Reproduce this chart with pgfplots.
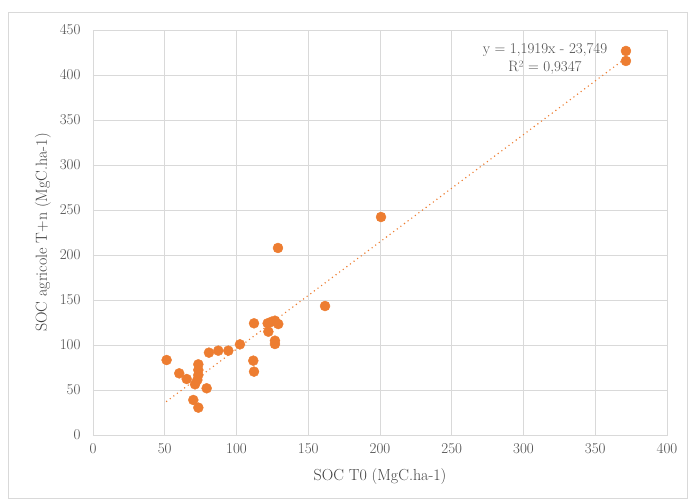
\documentclass[border=0pt]{standalone}
\usepackage{pgfplots}
\pgfplotsset{compat=1.18}
\definecolor{xlorange}{RGB}{237,125,49}
\definecolor{gridgray}{RGB}{217,217,217}
\begin{document}
\begin{tikzpicture}
\begin{axis}[
  name=ax,
  scale only axis,
  width=574pt, height=405pt,
  xmin=0, xmax=400, ymin=0, ymax=450,
  xtick={0,50,...,400}, ytick={0,50,...,450},
  grid=major,
  major grid style={gridgray, line width=0.8pt},
  axis line style={gridgray, line width=0.8pt},
  tick style={draw=none},
  ticklabel style={font=\fontsize{15}{17}\selectfont, text=black!70},
  /pgf/number format/assume math mode=true,
  xticklabel style={yshift=-5pt},
  yticklabel style={xshift=-9pt},
  xlabel={SOC T0 (MgC.ha-1)},
  ylabel={SOC agricole T+n (MgC.ha-1)},
  label style={font=\fontsize{16}{18}\selectfont, text=black!75},
  xlabel style={yshift=-8pt},
  ylabel style={yshift=2pt},
  clip=false,
]
\addplot[only marks, mark=*, mark size=5pt, color=xlorange] coordinates {
(51.3,83.3) (60.1,68.5) (65.3,62.2) (71.1,56.3) (73.4,78.5) (73.4,72.2)
(73.4,66.7) (72.7,61.1) (69.9,38.9) (73.4,30.4) (79.2,51.9) (80.8,91.5)
(87.3,93.7) (94.3,93.7) (102.4,100.7) (112.2,124.1) (111.7,82.6) (112.2,70.4)
(121.7,124.1) (122.2,114.8) (124.5,125.9) (126.8,127) (129.1,123.3)
(126.8,104.8) (126.8,101.1) (161.7,143.3) (128.9,207.8) (200.7,242.2)
(371.4,426.7) (371.4,415.6)
};
\addplot[xlorange, line width=1.6pt, line cap=round, dash pattern=on 0pt off 4.5pt, no marks] coordinates {(51.3,37.4) (371.4,418.9)};
\node[font=\fontsize{15}{17}\selectfont, text=black!70] at (axis cs:315,427.8) {y = 1,1919x - 23,749};
\node[font=\fontsize{15}{17}\selectfont, text=black!70] at (axis cs:315,407.8) {R² = 0,9347};
\end{axis}
\useasboundingbox ([xshift=-93pt,yshift=-64pt]ax.south west) rectangle ([xshift=21pt,yshift=30pt]ax.north east);
\draw[gridgray, line width=0.8pt] ([xshift=-85pt,yshift=-63pt]ax.south west) rectangle ([xshift=20pt,yshift=18pt]ax.north east);
\end{tikzpicture}
\end{document}
